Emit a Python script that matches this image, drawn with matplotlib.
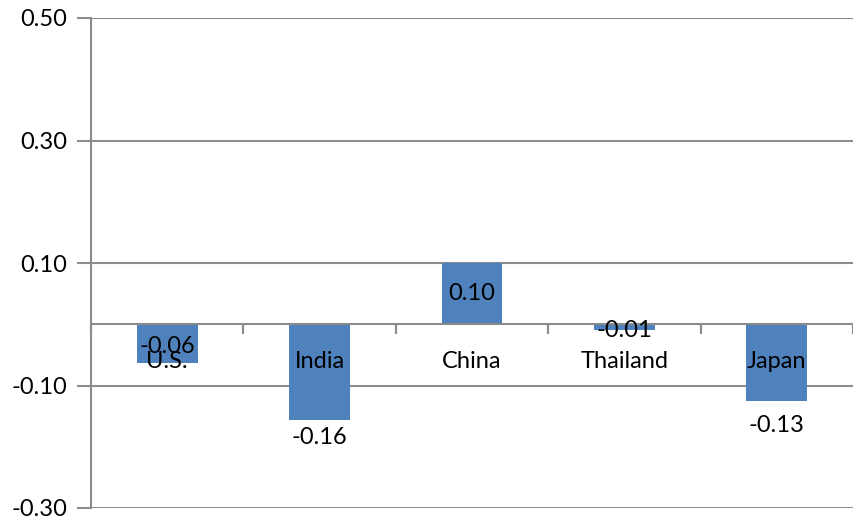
import matplotlib
matplotlib.use("Agg")
import matplotlib.pyplot as plt
import numpy as np

# Données
pays = ["U.S.", "India", "China", "Thailand", "Japan"]
valeurs = [-0.064, -0.157, 0.100, -0.010, -0.126]
etiquettes = ["-0.06", "-0.16", "0.10", "-0.01", "-0.13"]
graduations = [-0.30, -0.10, 0.10, 0.30, 0.50]

couleur_barre = "#4F81BD"
gris = "#8C8C8C"

plt.rcParams["font.family"] = ["Lato", "DejaVu Sans"]
plt.rcParams["font.size"] = 17

fig = plt.figure(figsize=(8.54, 5.21), dpi=100)
ax = fig.add_axes([91 / 854, 13 / 521, 762 / 854, 490 / 521])

x = np.arange(len(pays))
barres = ax.bar(x, valeurs, width=0.4, color=couleur_barre, zorder=3)

ax.set_xlim(-0.5, len(pays) - 0.5)
ax.set_ylim(graduations[0], graduations[-1])
ax.set_yticks(graduations)
ax.set_yticklabels([f"{g:.2f}" for g in graduations])
ax.yaxis.grid(True, color=gris, linewidth=1.5, zorder=0)
ax.tick_params(axis="y", length=10, width=1.5, color=gris, pad=7)

for s in ["top", "right", "bottom"]:
    ax.spines[s].set_visible(False)
ax.spines["left"].set_color(gris)
ax.spines["left"].set_linewidth(1.5)
ax.set_xticks([])

# Axe horizontal à zéro avec repères entre catégories
ax.axhline(0, color=gris, linewidth=1.5, zorder=4)
for b in np.arange(len(pays) + 1) - 0.5:
    ax.plot([b, b], [0, 0], marker=3, markersize=7, color=gris,
            markeredgewidth=1.5, clip_on=False, zorder=4)

# Noms des pays juste sous l'axe
for xi, nom in zip(x, pays):
    ax.annotate(nom, (xi, 0), xytext=(0, -27), textcoords="offset points",
                ha="center", va="center", zorder=5)

# Étiquettes de valeur : au centre, sauf sous la barre pour India et Japan
decalages = {1: -12, 4: -17}
for i, (v, txt) in enumerate(zip(valeurs, etiquettes)):
    if i in decalages:
        ax.annotate(txt, (x[i], v), xytext=(0, decalages[i]),
                    textcoords="offset points", ha="center", va="center", zorder=5)
    else:
        ax.annotate(txt, (x[i], v / 2), xytext=(0, -2 if v < 0 else 0),
                    textcoords="offset points", ha="center", va="center", zorder=5)

fig.savefig("out.png", dpi=100)
